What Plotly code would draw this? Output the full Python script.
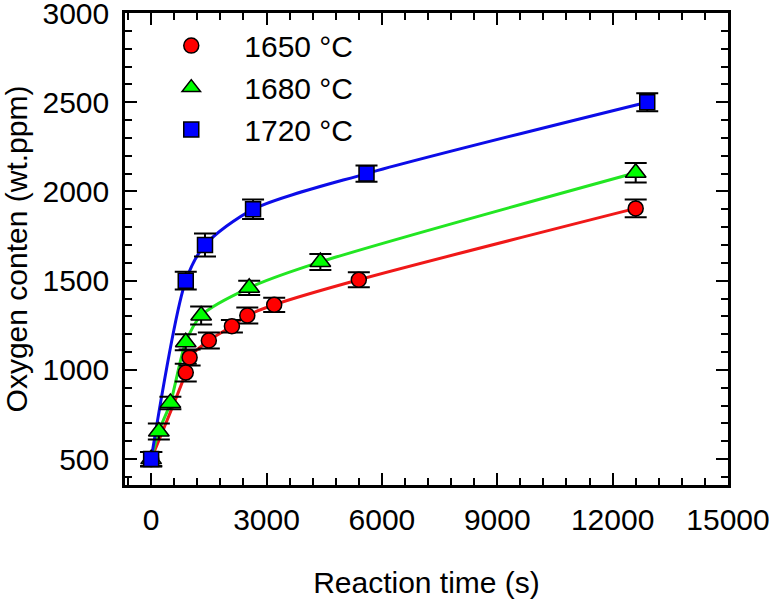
import plotly.graph_objects as go

# ---- data ----
t_1650 = [0, 900, 1000, 1500, 2100, 2500, 3200, 5400, 12600]
o_1650 = [500, 985, 1070, 1165, 1245, 1305, 1365, 1505, 1905]
e_1650 = [40, 50, 45, 45, 35, 45, 40, 42, 50]

t_1680 = [0, 200, 500, 900, 1300, 2550, 4400, 12600]
o_1680 = [500, 655, 815, 1155, 1305, 1460, 1605, 2105]
e_1680 = [40, 45, 35, 45, 50, 40, 45, 55]

t_1720 = [0, 900, 1400, 2650, 5600, 12900]
o_1720 = [500, 1500, 1700, 1900, 2100, 2500]
e_1720 = [40, 50, 65, 55, 45, 50]

labels = ["1650 °C", "1680 °C", "1720 °C"]
x_ticks = [0, 3000, 6000, 9000, 12000, 15000]
x_ticktext = ["0", "3000", "6000", "9000", "12000", "15000"]
y_ticks = [500, 1000, 1500, 2000, 2500, 3000]
y_ticktext = ["500", "1000", "1500", "2000", "2500", "3000"]

series = [
    (t_1650, o_1650, e_1650, labels[0], "circle", 15, "#ff0000", "#f01818"),
    (t_1680, o_1680, e_1680, labels[1], "triangle-up", 18, "#00ff00", "#22e622"),
    (t_1720, o_1720, e_1720, labels[2], "square", 15, "#0000ff", "#0c0ce8"),
]

FONT = "Arial, Liberation Sans, sans-serif"
FS = 30
fig = go.Figure()

for t, o, e, name, sym, sz, fill, lc in series:
    fig.add_trace(go.Scatter(
        x=t, y=o, mode="lines", showlegend=False, hoverinfo="skip",
        line=dict(color=lc, width=3, shape="spline", smoothing=0.8),
    ))

for t, o, e, name, sym, sz, fill, lc in series:
    fig.add_trace(go.Scatter(
        x=t, y=o, mode="markers", name=name,
        marker=dict(symbol=sym, size=sz, color=fill,
                    line=dict(color="black", width=1.5)),
        error_y=dict(type="data", array=e, visible=True,
                     color="black", thickness=2, width=11),
    ))

axis_common = dict(
    showline=True, linecolor="black", linewidth=2.5, mirror="allticks",
    ticks="inside", ticklen=12, tickwidth=2, tickcolor="black",
    showgrid=False, zeroline=False, automargin=False,
    ticklabeloverflow="allow",
    tickfont=dict(family=FONT, size=FS, color="black"),
)

fig.update_xaxes(
    range=[-680, 15000], tickvals=x_ticks, ticktext=x_ticktext,
    minor=dict(dtick=600, tick0=0, ticks="inside", ticklen=7, tickwidth=2, tickcolor="black"),
    title=dict(text="Reaction time (s)", font=dict(family=FONT, size=FS, color="black"), standoff=38),
    ticklabelstandoff=6,
    **axis_common,
)
fig.update_yaxes(
    range=[355, 3000], tickvals=y_ticks, ticktext=y_ticktext,
    minor=dict(dtick=100, tick0=0, ticks="inside", ticklen=7, tickwidth=2, tickcolor="black"),
    title=dict(text="Oxygen conten (wt.ppm)", font=dict(family=FONT, size=FS, color="black"), standoff=36),
    ticklabelstandoff=7,
    **axis_common,
)

fig.update_layout(
    width=769, height=601,
    margin=dict(l=125, r=41, t=13, b=116),
    paper_bgcolor="white", plot_bgcolor="white",
    font=dict(family=FONT, size=FS, color="black"),
    legend=dict(x=0.022, y=0.986, xanchor="left", yanchor="top",
                bgcolor="rgba(0,0,0,0)", borderwidth=0,
                font=dict(family=FONT, size=FS, color="black"),
                itemwidth=96, tracegroupgap=0),
    showlegend=True,
)

fig.write_html("out.html", config={"displayModeBar": False},
               post_script="document.body.style.margin='0';")
